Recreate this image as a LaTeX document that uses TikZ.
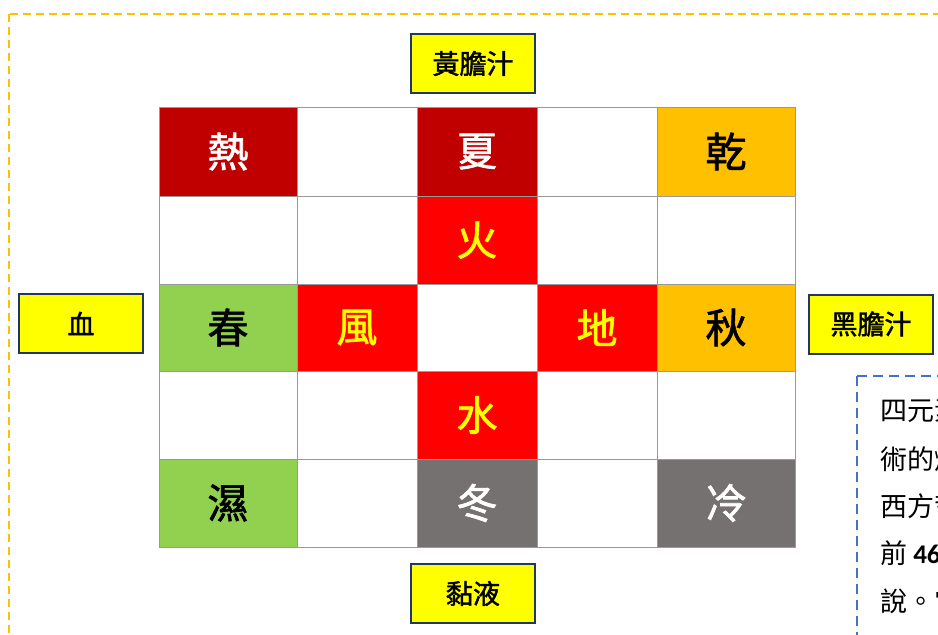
\documentclass[tikz,border=0pt]{standalone}
\usepackage{fontspec}
\newfontfamily\cjk{Noto Sans CJK TC}
\newfontfamily\cjkmed{Noto Sans CJK TC}[FakeBold=1.6]
\newfontfamily\latb{Carlito}
\definecolor{dred}{HTML}{C00000}
\definecolor{bred}{HTML}{FF0000}
\definecolor{orng}{HTML}{FFC000}
\definecolor{lgrn}{HTML}{92D050}
\definecolor{dgry}{HTML}{767171}
\definecolor{ylw}{HTML}{FFFF00}
\definecolor{navy}{HTML}{1F3864}
\definecolor{bdash}{HTML}{4472C4}
\begin{document}
\begin{tikzpicture}[x=1pt,y=-1pt,
  cellbox/.style={inner sep=0pt, minimum height=#1, font=\cjkmed\fontsize{41}{41}\selectfont},
  labelbox/.style={draw=navy, line width=2pt, fill=ylw, minimum width=124pt, minimum height=59pt, inner sep=0pt, font=\cjkmed\fontsize{27}{27}\selectfont},
  gridline/.style={draw=gray!80, line width=0.8pt},
  txt/.style={anchor=west, inner sep=0pt, font=\cjk\fontsize{27}{27}\selectfont}]
\clip (0,0) rectangle (938,635);
\path[use as bounding box] (0,0) rectangle (938,635);
\fill[white] (0,0) rectangle (938,635);
% outer dashed frame
\draw[orng, line width=2pt, dash pattern=on 8pt off 5pt] (9,14) rectangle (960,660);
% cells
\node[cellbox=89pt, minimum width=138pt, fill=dred, text=white] (re) at (228,151.5) {熱};
\node[cellbox=89pt, minimum width=120pt, fill=dred, text=white] (xia) at (477,151.5) {夏};
\node[cellbox=89pt, minimum width=138pt, fill=orng, text=black] (qian) at (726,151.5) {乾};
\node[cellbox=88pt, minimum width=120pt, fill=bred, text=ylw] (huo) at (477,240) {火};
\node[cellbox=87pt, minimum width=138pt, fill=lgrn, text=black] (chun) at (228,327.5) {春};
\node[cellbox=87pt, minimum width=120pt, fill=bred, text=ylw] (feng) at (357,327.5) {風};
\node[cellbox=87pt, minimum width=120pt, fill=bred, text=ylw] (di) at (597,327.5) {地};
\node[cellbox=87pt, minimum width=138pt, fill=orng, text=black] (qiu) at (726,327.5) {秋};
\node[cellbox=88pt, minimum width=120pt, fill=bred, text=ylw] (shui) at (477,415) {水};
\node[cellbox=88pt, minimum width=138pt, fill=lgrn, text=black] (shi) at (228,503) {濕};
\node[cellbox=88pt, minimum width=120pt, fill=dgry, text=white] (dong) at (477,503) {冬};
\node[cellbox=88pt, minimum width=138pt, fill=dgry, text=white] (leng) at (726,503) {冷};
% grid
\draw[gridline] (159,107) rectangle (795,547);
\foreach \x in {297,417,537,657} \draw[gridline] (\x,107) -- (\x,547);
\foreach \y in {196,284,371,459} \draw[gridline] (159,\y) -- (795,\y);
% labels
\node[labelbox] (huang) at (473,63.5) {黃膽汁};
\node[labelbox] (xue) at (81,323.5) {血};
\node[labelbox] (hei) at (871,324) {黑膽汁};
\node[labelbox] (nian) at (473,593.5) {黏液};
% text box
\draw[bdash, line width=2pt, dash pattern=on 10pt off 6pt] (857,376) rectangle (990,680);
\node[txt] (t1) at (880,410) {四元素};
\node[txt] (t2) at (880,459) {術的煉};
\node[txt] (t3) at (880,506) {西方哲};
\node[txt] (t4) at (880,553) {前 {\latb\bfseries 460}};
\node[txt] (t5) at (880,601) {說。它};
\end{tikzpicture}
\end{document}
